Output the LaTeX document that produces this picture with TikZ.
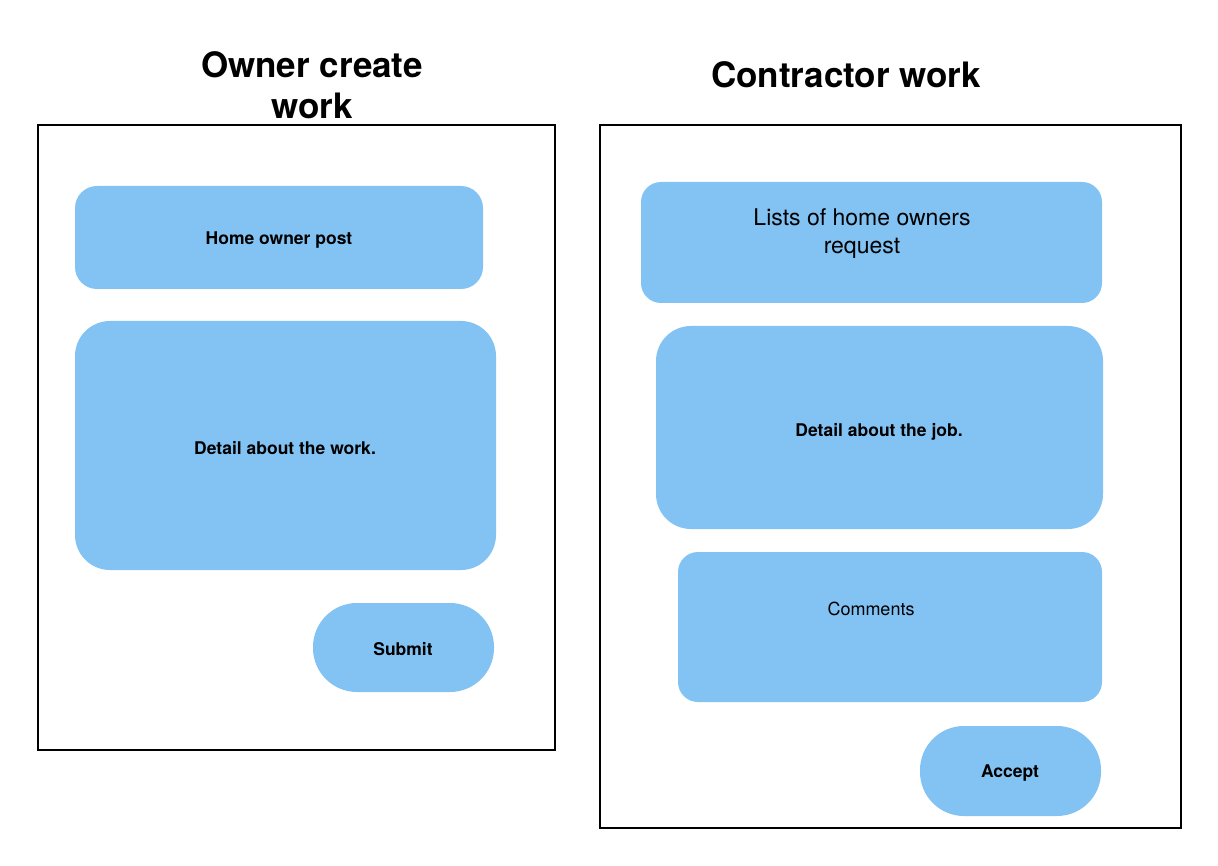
\documentclass[tikz,border=0pt]{standalone}
\usepackage{fontspec}
\setmainfont{TeX Gyre Heros}
\begin{document}
\begin{tikzpicture}[x=1pt,y=-1pt,
  frame/.style={draw=black, line width=1.8pt},
  card/.style={fill=cardblue, draw=none},
  title/.style={font=\fontsize{35}{41}\selectfont\bfseries, align=center, inner sep=0pt},
  lbl/.style={font=\fontsize{17.5}{21}\selectfont\bfseries, inner sep=0pt},
  plain/.style={font=\fontsize{18}{22}\selectfont, inner sep=0pt},
  bigplain/.style={font=\fontsize{23}{28}\selectfont, align=center, inner sep=0pt}]
\definecolor{cardblue}{HTML}{83C3F3}
\useasboundingbox (0,0) rectangle (1218,866);
\fill[white] (0,0) rectangle (1218,866);

% panel titles
\node[title] (t1) at (312,85) {Owner create\\work};
\node[title] (t2) at (846,75) {Contractor work};

% panel frames
\draw[frame] (38,125) rectangle (555,750);
\draw[frame] (600,125) rectangle (1181,828);

% owner side
\fill[card, rounded corners=22pt] (75,186) rectangle (483,289);
\node[lbl] (post) at (279,240) {Home owner post};
\fill[card, rounded corners=35pt] (75,321) rectangle (496,570);
\node[lbl] (work) at (285,448) {Detail about the work.};
\fill[card, rounded corners=44pt] (313,603) rectangle (494,692);
\node[lbl] (submit) at (403,649) {Submit};

% contractor side
\fill[card, rounded corners=20pt] (641,182) rectangle (1102,303);
\node[bigplain] (lists) at (862,234) {Lists of home owners\\request};
\fill[card, rounded corners=35pt] (656,326) rectangle (1103,529);
\node[lbl] (job) at (879,432) {Detail about the job.};
\fill[card, rounded corners=20pt] (678,552) rectangle (1102,702);
\node[plain] (comments) at (871,609) {Comments};
\fill[card, rounded corners=44pt] (920,726) rectangle (1101,816);
\node[lbl] (accept) at (1010,773) {Accept};
\end{tikzpicture}
\end{document}
